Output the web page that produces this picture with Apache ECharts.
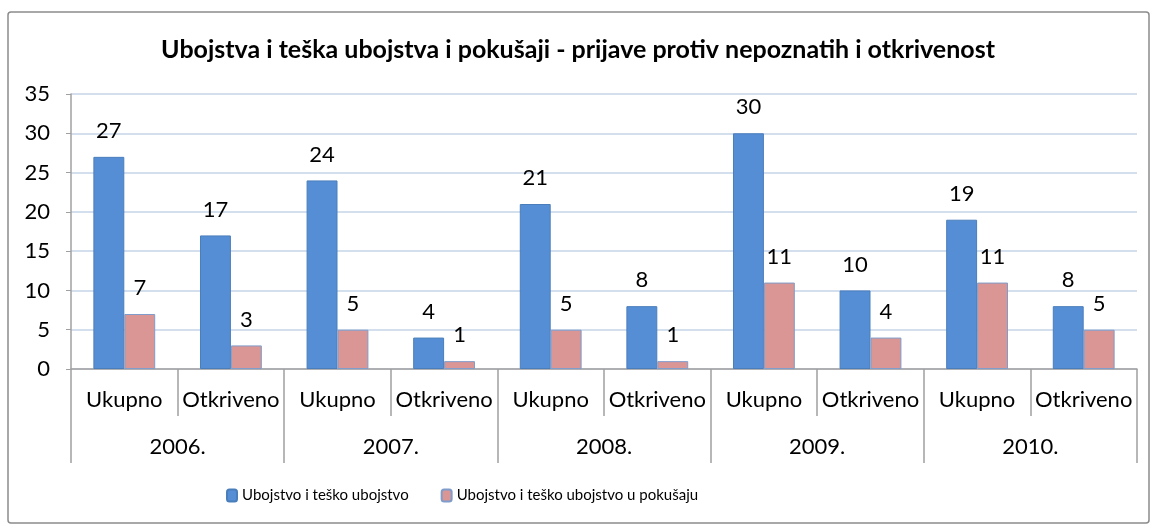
<!DOCTYPE html>
<html>
<head>
<meta charset="utf-8">
<script src="https://cdn.jsdelivr.net/npm/echarts@6/dist/echarts.min.js"></script>
<style>
  html, body { margin: 0; padding: 0; background: #fff; }
  #chart { width: 1156px; height: 528px; }
</style>
</head>
<body>
<div id="chart"></div>
<script>
const subCategories = ['Ukupno', 'Otkriveno', 'Ukupno', 'Otkriveno', 'Ukupno', 'Otkriveno', 'Ukupno', 'Otkriveno', 'Ukupno', 'Otkriveno'];
const years = ['2006.', '2007.', '2008.', '2009.', '2010.'];
const murders = [27, 17, 24, 4, 21, 8, 30, 10, 19, 8];
const attempts = [7, 3, 5, 1, 5, 1, 11, 4, 11, 5];
const yTicks = [0, 35, 5];

const chart = echarts.init(document.getElementById('chart'));
const font = 'Lato, "Open Sans", sans-serif';

const option = {
  backgroundColor: '#ffffff',
  animation: false,
  textStyle: { fontFamily: font },
  title: {
    text: 'Ubojstva i teška ubojstva i pokušaji - prijave protiv nepoznatih i otkrivenost',
    left: 'center',
    top: 32,
    textStyle: { fontFamily: font, fontSize: 25, fontWeight: 'bold', color: '#000' }
  },
  graphic: [{
    type: 'rect',
    shape: { x: 8, y: 12, width: 1141, height: 511, r: 3 },
    style: { fill: 'none', stroke: '#8c8c8c', lineWidth: 1.5 },
    silent: true
  }],
  legend: {
    bottom: 20,
    left: 221,
    itemWidth: 10,
    itemHeight: 12,
    itemGap: 32,
    textStyle: { fontFamily: font, fontSize: 15, color: '#000' },
    data: ['Ubojstvo i teško ubojstvo', 'Ubojstvo i teško ubojstvo u pokušaju']
  },
  grid: { left: 71, right: 19, top: 94, bottom: 159 },
  xAxis: [
    {
      type: 'category',
      data: subCategories,
      axisLine: { lineStyle: { color: '#a0a0a0', width: 1.5 } },
      axisTick: { show: true, length: 47, lineStyle: { color: '#a0a0a0', width: 1.5 } },
      axisLabel: { margin: 20, fontFamily: font, fontSize: 22, color: '#000', interval: 0 }
    },
    {
      type: 'category',
      data: years,
      position: 'bottom',
      axisLine: { show: false },
      axisTick: { show: true, length: 94, lineStyle: { color: '#a0a0a0', width: 1.5 } },
      axisLabel: { margin: 67, fontFamily: font, fontSize: 22, color: '#000', interval: 0 }
    }
  ],
  yAxis: {
    type: 'value',
    min: yTicks[0],
    max: yTicks[1],
    interval: yTicks[2],
    axisLine: { show: true, lineStyle: { color: '#a0a0a0', width: 1.5 } },
    axisTick: { show: true, length: 5, lineStyle: { color: '#a0a0a0' } },
    axisLabel: { margin: 21, fontFamily: font, fontSize: 22, color: '#000' },
    splitLine: { lineStyle: { color: '#c6d4e8', width: 1.5 } }
  },
  series: [
    {
      name: 'Ubojstvo i teško ubojstvo',
      type: 'bar',
      data: murders,
      barGap: '0%',
      barCategoryGap: '42%',
      itemStyle: { color: '#558ed5', borderColor: '#4a7ebb', borderWidth: 1 },
      label: { show: true, position: 'top', distance: 15, fontFamily: font, fontSize: 22, color: '#000' }
    },
    {
      name: 'Ubojstvo i teško ubojstvo u pokušaju',
      type: 'bar',
      data: attempts,
      itemStyle: { color: '#d99694', borderColor: '#7f9ccb', borderWidth: 1 },
      label: { show: true, position: 'top', distance: 15, fontFamily: font, fontSize: 22, color: '#000' }
    }
  ]
};

chart.setOption(option);
</script>
</body>
</html>
